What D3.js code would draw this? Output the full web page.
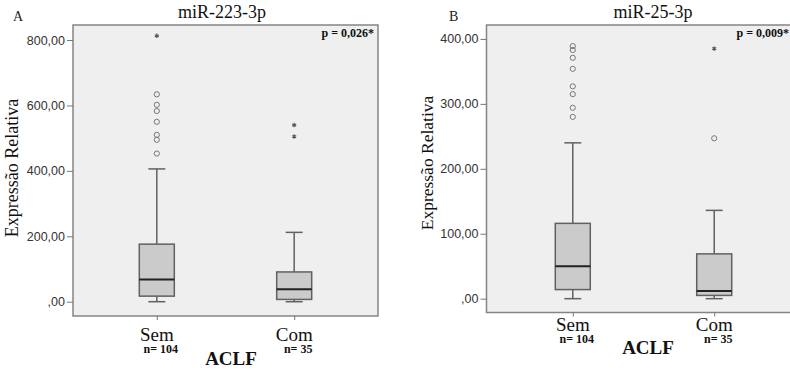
<!DOCTYPE html>
<html>
<head>
<meta charset="utf-8">
<script src="https://cdn.jsdelivr.net/npm/d3@7"></script>
<style>
  html, body { margin: 0; padding: 0; background: #fff; }
  svg { display: block; }
</style>
</head>
<body>
<svg id="chart" width="790" height="370"></svg>
<script>
// ---------- DATA ----------
const categories = ["Sem", "Com"];
const nLabels = ["n= 104", "n= 35"];
const panelTitles = ["miR-223-3p", "miR-25-3p"];
const panelLetters = ["A", "B"];
const pValues = ["p = 0,026*", "p = 0,009*"];
const xAxisTitle = "ACLF";
const yAxisTitle = "Expressão Relativa";

// Panel A: miR-223-3p
const aMin = [0, 0];
const aQ1 = [17, 7];
const aMedian = [68, 38];
const aQ3 = [176, 91];
const aMax = [406, 212];
const aOutliers = [[634, 602, 583, 550, 510, 495, 453], []];
const aExtremes = [[813], [540, 505]];
const aTicks = [0, 200, 400, 600, 800];
const aTickLabels = [",00", "200,00", "400,00", "600,00", "800,00"];

// Panel B: miR-25-3p
const bMin = [0, 0];
const bQ1 = [14, 5];
const bMedian = [50, 12];
const bQ3 = [116, 69];
const bMax = [240, 136];
const bOutliers = [[389, 383, 371, 354, 327, 315, 294, 280], [247]];
const bExtremes = [[], [385]];
const bTicks = [0, 100, 200, 300, 400];
const bTickLabels = [",00", "100,00", "200,00", "300,00", "400,00"];

// ---------- LAYOUT ----------
const panels = [
  {
    stats: { min: aMin, q1: aQ1, med: aMedian, q3: aQ3, max: aMax, out: aOutliers, ext: aExtremes },
    ticks: aTicks, tickLabels: aTickLabels,
    title: panelTitles[0], letter: panelLetters[0], p: pValues[0],
    x0: 73, x1: 378, y0: 25, y1: 316, yDomain: [-43.7, 846],
    titleX: 222, titleY: 18, letterX: 13, letterY: 21, pX: 374, pY: 37,
    catY: 341, nY: 353, aclfX: 231, aclfY: 365,
    ylabX: 18, ylabY: 168, ylabSize: 18
  },
  {
    stats: { min: bMin, q1: bQ1, med: bMedian, q3: bQ3, max: bMax, out: bOutliers, ext: bExtremes },
    ticks: bTicks, tickLabels: bTickLabels,
    title: panelTitles[1], letter: panelLetters[1], p: pValues[1],
    x0: 486.5, x1: 800.5, y0: 25, y1: 312.5, yDomain: [-21.3, 421.5],
    titleX: 653, titleY: 18, letterX: 449, letterY: 21, pX: 789, pY: 37,
    catY: 331, nY: 343, aclfX: 648, aclfY: 354,
    ylabX: 433, ylabY: 163, ylabSize: 17.5
  }
];

const svg = d3.select("#chart");
const serif = "'Liberation Serif', 'Times New Roman', serif";
const sans = "'Liberation Sans', Arial, sans-serif";
const boxW = 35, capW = 17;

panels.forEach(P => {
  const g = svg.append("g");
  const x = d3.scalePoint().domain(categories).range([P.x0, P.x1]).padding(0.61);
  const y = d3.scaleLinear().domain(P.yDomain).range([P.y1, P.y0]);

  // plot background
  g.append("rect")
    .attr("x", P.x0).attr("y", P.y0)
    .attr("width", P.x1 - P.x0).attr("height", P.y1 - P.y0)
    .attr("fill", "#efefef").attr("stroke", "#858585").attr("stroke-width", 1.5);

  // y axis
  const yAxis = d3.axisLeft(y).tickValues(P.ticks)
    .tickFormat((d, i) => P.tickLabels[i]).tickSize(6).tickPadding(2);
  const ya = g.append("g").attr("transform", `translate(${P.x0},0)`).call(yAxis);
  ya.select(".domain").remove();
  ya.selectAll(".tick line").attr("stroke", "#777").attr("stroke-width", 1);
  ya.selectAll(".tick text").attr("fill", "#333").style("font-family", sans).style("font-size", "12.5px");

  // x axis ticks
  const xAxis = d3.axisBottom(x).tickSize(4).tickFormat("");
  const xa = g.append("g").attr("transform", `translate(0,${P.y1})`).call(xAxis);
  xa.select(".domain").remove();
  xa.selectAll(".tick line").attr("stroke", "#777");

  // boxes
  categories.forEach((c, i) => {
    const cx = x(c);
    const s = P.stats;
    const col = "#616161";
    // whiskers
    g.append("line").attr("x1", cx).attr("x2", cx).attr("y1", y(s.q3[i])).attr("y2", y(s.max[i]))
      .attr("stroke", col).attr("stroke-width", 1.5);
    g.append("line").attr("x1", cx).attr("x2", cx).attr("y1", y(s.q1[i])).attr("y2", y(s.min[i]))
      .attr("stroke", col).attr("stroke-width", 1.5);
    [s.max[i], s.min[i]].forEach(v => {
      g.append("line").attr("x1", cx - capW / 2).attr("x2", cx + capW / 2)
        .attr("y1", y(v)).attr("y2", y(v)).attr("stroke", col).attr("stroke-width", 1.5);
    });
    // box
    g.append("rect").attr("x", cx - boxW / 2).attr("width", boxW)
      .attr("y", y(s.q3[i])).attr("height", y(s.q1[i]) - y(s.q3[i]))
      .attr("fill", "#cbcbcb").attr("stroke", col).attr("stroke-width", 1.5);
    // median
    g.append("line").attr("x1", cx - boxW / 2).attr("x2", cx + boxW / 2)
      .attr("y1", y(s.med[i])).attr("y2", y(s.med[i]))
      .attr("stroke", "#222").attr("stroke-width", 2);
    // outliers
    s.out[i].forEach(v => {
      g.append("circle").attr("cx", cx).attr("cy", y(v)).attr("r", 2.6)
        .attr("fill", "none").attr("stroke", "#777").attr("stroke-width", 1);
    });
    // extremes
    s.ext[i].forEach(v => {
      g.append("path").attr("d", d3.symbol(d3.symbolAsterisk, 14)())
        .attr("transform", `translate(${cx},${y(v)})`)
        .attr("fill", "none").attr("stroke", "#555").attr("stroke-width", 1.1);
    });
    // category labels
    g.append("text").attr("x", cx).attr("y", P.catY).attr("text-anchor", "middle")
      .style("font-family", serif).style("font-size", "19px").attr("fill", "#111").text(c);
    g.append("text").attr("x", cx + 4).attr("y", P.nY).attr("text-anchor", "middle")
      .style("font-family", serif).style("font-size", "12px").style("font-weight", "bold")
      .attr("fill", "#111").text(nLabels[i]);
  });

  // titles
  g.append("text").attr("x", P.titleX).attr("y", P.titleY).attr("text-anchor", "middle")
    .style("font-family", serif).style("font-size", "18px").attr("fill", "#111").text(P.title);
  g.append("text").attr("x", P.letterX).attr("y", P.letterY)
    .style("font-family", serif).style("font-size", "14px").attr("fill", "#222").text(P.letter);
  g.append("text").attr("x", P.pX).attr("y", P.pY).attr("text-anchor", "end")
    .style("font-family", serif).style("font-size", "12px").style("font-weight", "bold")
    .attr("fill", "#111").text(P.p);
  g.append("text").attr("x", P.aclfX).attr("y", P.aclfY).attr("text-anchor", "middle")
    .style("font-family", serif).style("font-size", "19px").style("font-weight", "bold")
    .attr("fill", "#111").text(xAxisTitle);
  g.append("text")
    .attr("transform", `translate(${P.ylabX},${P.ylabY}) rotate(-90)`)
    .attr("text-anchor", "middle")
    .style("font-family", serif).style("font-size", P.ylabSize + "px")
    .attr("fill", "#111").text(yAxisTitle);
});
</script>
</body>
</html>
